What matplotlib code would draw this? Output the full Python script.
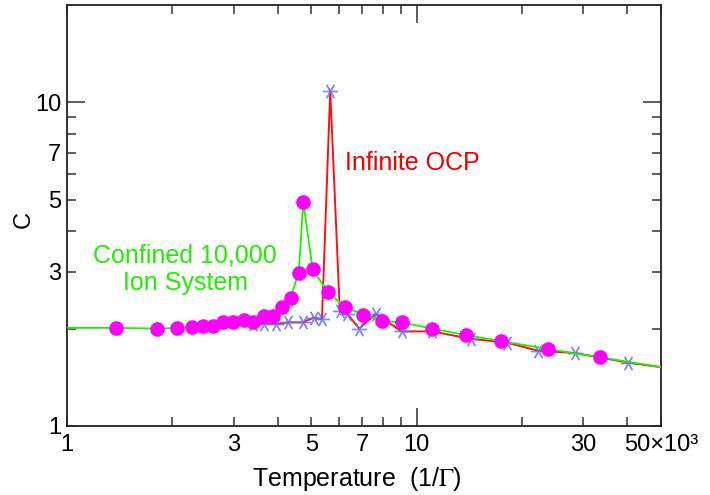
import matplotlib
matplotlib.use('Agg')
import matplotlib.pyplot as plt
from matplotlib.ticker import FixedLocator, FuncFormatter

plt.rcParams['font.family'] = ['Liberation Sans', 'DejaVu Sans']
plt.rcParams['mathtext.fontset'] = 'stix'

# confined 10,000 ion system (green line, magenta dots)
# first and last entries are only where the line meets the frame
conf_T = [1.0, 1.38, 1.81, 2.07, 2.28, 2.45, 2.62, 2.80, 2.99, 3.20, 3.41, 3.65,
          3.88, 4.12, 4.36, 4.60, 4.74, 5.04, 5.58, 6.25, 7.03, 7.95, 9.06,
          11.08, 13.80, 17.39, 23.68, 33.5, 50.0]
conf_C = [2.01, 2.01, 2.00, 2.01, 2.02, 2.03, 2.04, 2.10, 2.09, 2.12, 2.10, 2.19,
          2.19, 2.34, 2.49, 2.98, 4.93, 3.05, 2.59, 2.33, 2.21, 2.11, 2.09,
          2.00, 1.91, 1.83, 1.73, 1.63, 1.52]

# infinite OCP (red line, blue stars), last entry is the line end at the frame
ocp_T = [3.41, 3.67, 3.96, 4.30, 4.72, 5.07, 5.36, 5.66, 6.03, 6.34, 6.85, 7.64,
         9.06, 11.08, 14.26, 18.09, 22.18, 28.46, 40.3, 50.0]
ocp_C = [2.07, 2.07, 2.07, 2.09, 2.09, 2.16, 2.14, 10.86, 2.26, 2.22, 2.00, 2.22,
         1.96, 1.96, 1.86, 1.81, 1.71, 1.68, 1.57, 1.52]

x_minor = [1, 2, 3, 4, 5, 6, 7, 8, 9, 20, 30, 40, 50]
x_labels = {1: '1', 3: '3', 5: '5', 7: '7', 10: '10', 30: '30', 50: '50×10³'}
y_minor = [1, 2, 3, 4, 5, 6, 7, 8, 9]
y_labels = {1: '1', 3: '3', 5: '5', 7: '7', 10: '10'}

fig = plt.figure(figsize=(7.1, 4.95), dpi=100)
ax = fig.add_axes([0.0944, 0.1394, 0.8366, 0.8505])

ax.plot(ocp_T, ocp_C, color='#ff1010', lw=1.4, zorder=2)
ax.plot(ocp_T, ocp_C, ls='none', marker=(6, 2, 90), ms=11, mew=1.0,
        mec='#6070ff', alpha=0.8, markevery=slice(0, -1), zorder=3)
ax.plot(conf_T, conf_C, color='#22ee00', lw=1.3, marker='o', ms=9.5,
        mfc='#ff00ff', mec='#ff00ff', markevery=slice(1, -1), zorder=4)

ax.set_xscale('log')
ax.set_yscale('log')
ax.set_xlim(1, 50)
ax.set_ylim(1, 20)

lab_x = FuncFormatter(lambda v, _: x_labels.get(int(round(v)), ''))
lab_y = FuncFormatter(lambda v, _: y_labels.get(int(round(v)), ''))
ax.xaxis.set_major_locator(FixedLocator([10]))
ax.xaxis.set_minor_locator(FixedLocator(x_minor))
ax.xaxis.set_major_formatter(lab_x)
ax.xaxis.set_minor_formatter(lab_x)
ax.yaxis.set_major_locator(FixedLocator([10]))
ax.yaxis.set_minor_locator(FixedLocator(y_minor))
ax.yaxis.set_major_formatter(lab_y)
ax.yaxis.set_minor_formatter(lab_y)

ax.tick_params(which='both', direction='in', top=True, right=True,
               color='#333333', width=1.1, labelsize=17)
ax.tick_params(axis='x', which='both', pad=6)
ax.tick_params(axis='y', which='both', pad=4)
ax.tick_params(which='major', length=13)
ax.tick_params(which='minor', length=6.5)
for s in ax.spines.values():
    s.set_linewidth(1.3)
    s.set_color('#222222')

ax.set_xlabel('Temperature  (1/$\\Gamma$)', fontsize=18)
ax.xaxis.set_label_coords(0.488, -0.093)
ax.set_ylabel('C', fontsize=17)
ax.yaxis.set_label_coords(-0.054, 0.49)

ax.text(6.24, 6.5, 'Infinite OCP', color='#ee0000', fontsize=18,
        ha='left', va='center')
ax.text(2.18, 3.05, 'Confined 10,000\nIon System', color='#22ee00',
        fontsize=18, ha='center', va='center', linespacing=1.2)

fig.savefig('out.png', dpi=100)
